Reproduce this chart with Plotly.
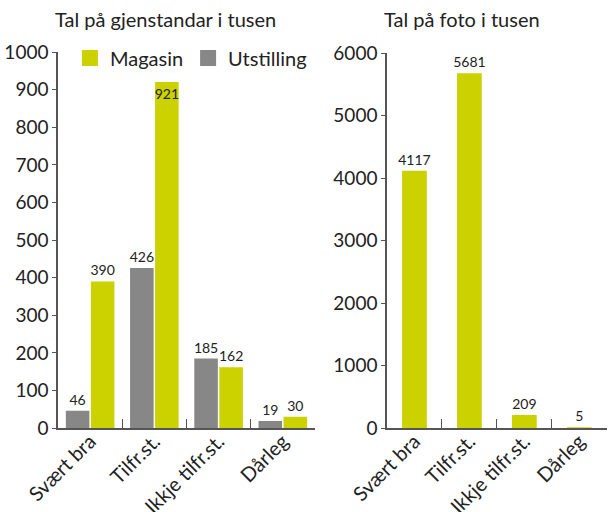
import plotly.graph_objects as go
from plotly.subplots import make_subplots

categories = ["Svært bra", "Tilfr.st.", "Ikkje tilfr.st.", "Dårleg"]
gjenstandar_utstilling = [46, 426, 185, 19]
gjenstandar_magasin = [390, 921, 162, 30]
foto_magasin = [4117, 5681, 209, 5]
legend_names = ["Magasin", "Utstilling"]

green = "#CCD100"
grey = "#878787"
ink = "#222222"
axis_col = "#555555"
font_family = "Lato, 'Open Sans', sans-serif"

fig = make_subplots(rows=1, cols=2, horizontal_spacing=0.12)

fig.add_trace(go.Bar(
    x=categories, y=gjenstandar_utstilling, name="Utstilling", showlegend=False,
    marker=dict(color=grey, line=dict(width=0)),
    text=gjenstandar_utstilling, textposition="outside", cliponaxis=False,
    constraintext="none", textfont=dict(size=14, color=ink),
), row=1, col=1)

# the tallest bar has its label tucked inside the top
mag_pos = ["inside" if v > 900 else "outside" for v in gjenstandar_magasin]
fig.add_trace(go.Bar(
    x=categories, y=gjenstandar_magasin, name="Magasin", showlegend=False,
    marker=dict(color=green, line=dict(width=0)),
    text=gjenstandar_magasin, textposition=mag_pos, insidetextanchor="end",
    textangle=0, constraintext="none", cliponaxis=False,
    textfont=dict(size=14, color=ink),
), row=1, col=1)

fig.add_trace(go.Bar(
    x=categories, y=foto_magasin, name="Magasin", showlegend=False,
    width=0.45,
    marker=dict(color=green, line=dict(width=0)),
    text=foto_magasin, textposition="outside", cliponaxis=False,
    constraintext="none", textangle=0, textfont=dict(size=14, color=ink),
), row=1, col=2)

# legend-only entries so the swatches can be bigger squares
for name, color in zip(legend_names, [green, grey]):
    fig.add_trace(go.Scatter(
        x=[None], y=[None], mode="markers", name=name,
        marker=dict(symbol="square", size=22, color=color),
    ), row=1, col=1)

xaxis_style = dict(
    showline=True, linecolor=axis_col, linewidth=1.5,
    ticks="inside", tickson="boundaries", ticklen=9, tickcolor=axis_col,
    tickangle=-45, tickfont=dict(size=20, color=ink), showgrid=False,
    ticklabelstandoff=-8, automargin=False,
)
yaxis_style = dict(
    showline=True, linecolor=axis_col, linewidth=1.5,
    ticks="outside", ticklen=4, tickcolor=axis_col,
    tickfont=dict(size=19, color=ink), showgrid=False, zeroline=False,
    automargin=False,
)

fig.update_xaxes(**xaxis_style)
fig.update_yaxes(**yaxis_style)
fig.update_xaxes(domain=[0.0954, 0.518], row=1, col=1)
fig.update_xaxes(domain=[0.6365, 0.998], row=1, col=2)
fig.update_yaxes(range=[0, 1000], dtick=100, domain=[0.164, 0.898], row=1, col=1)
fig.update_yaxes(range=[0, 6000], dtick=1000, domain=[0.164, 0.896], row=1, col=2)

fig.update_layout(
    width=608, height=512,
    margin=dict(l=0, r=0, t=0, b=0, autoexpand=False),
    paper_bgcolor="white", plot_bgcolor="white",
    font=dict(family=font_family, color=ink),
    barmode="group", bargap=0.22, bargroupgap=0.06,
    legend=dict(
        orientation="h", x=0.115, y=0.925, xanchor="left", yanchor="top",
        font=dict(size=20, color=ink), itemwidth=30,
        bgcolor="rgba(0,0,0,0)",
    ),
    annotations=[
        dict(text="Tal på gjenstandar i tusen", x=0.273, y=0.962, xref="paper", yref="paper",
             showarrow=False, font=dict(size=20, color=ink), xanchor="center", yanchor="middle"),
        dict(text="Tal på foto i tusen", x=0.76, y=0.962, xref="paper", yref="paper",
             showarrow=False, font=dict(size=20, color=ink), xanchor="center", yanchor="middle"),
    ],
)

fig.write_html("out.html", config={"displayModeBar": False},
               post_script="document.body.style.margin='0';")
